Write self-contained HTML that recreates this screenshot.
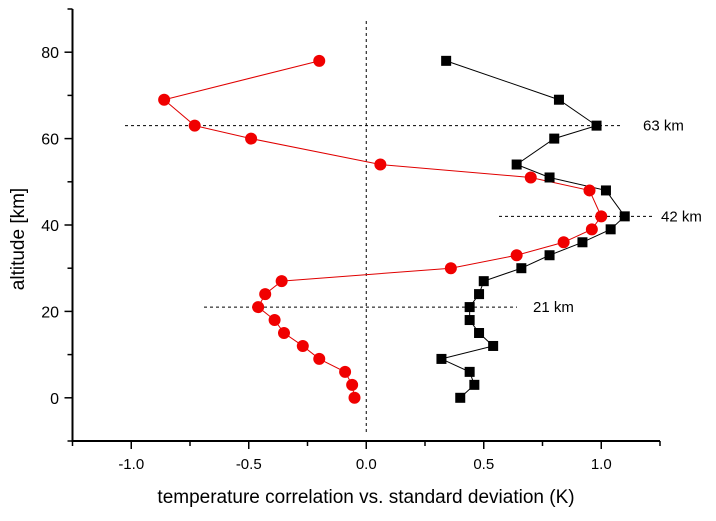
<!DOCTYPE html>
<html><head><meta charset="utf-8"><style>
html,body{margin:0;padding:0;background:#fff;}
svg text{font-family:"Liberation Sans",Arial,sans-serif;}
</style></head><body>
<svg id="chart" width="716" height="516" viewBox="0 0 716 516" xmlns="http://www.w3.org/2000/svg">
<g id="grid"></g>
</svg>
<script>
const altitudes = [78,69,63,60,54,51,48,42,39,36,33,30,27,24,21,18,15,12,9,6,3,0];
const correlation = [-0.20,-0.86,-0.73,-0.49,0.06,0.70,0.95,1.00,0.96,0.84,0.64,0.36,-0.36,-0.43,-0.46,-0.39,-0.35,-0.27,-0.20,-0.09,-0.06,-0.05];
const stdDev = [0.34,0.82,0.98,0.80,0.64,0.78,1.02,1.10,1.04,0.92,0.78,0.66,0.50,0.48,0.44,0.44,0.48,0.54,0.32,0.44,0.46,0.40];
const xTicks = [-1.0,-0.5,0.0,0.5,1.0];
const xTickLabels = ["-1.0","-0.5","0.0","0.5","1.0"];
const yTicks = [0,20,40,60,80];
const markerAltitudes = [63,42,21];
const markerLabels = ["63 km","42 km","21 km"];

const X0=72.5,X1=660,Y0=441,Y1=9, xmin=-1.25,xmax=1.25,ymin=-10,ymax=90;
const sx=v=>X0+(v-xmin)/(xmax-xmin)*(X1-X0);
const sy=v=>Y0-(v-ymin)/(ymax-ymin)*(Y0-Y1);
const NS="http://www.w3.org/2000/svg";
const svg=document.getElementById('chart');
function mk(t,a,p){const e=document.createElementNS(NS,t);for(const k in a)e.setAttribute(k,a[k]);(p||svg).appendChild(e);return e;}

// reference lines
const vl=mk('line',{x1:sx(0),x2:sx(0),y1:21,y2:432,stroke:'#000','stroke-width':1,'stroke-dasharray':'3,3'});


const hx=[[125,623,643],[499,652,661],[204,517,533]];
markerAltitudes.forEach((a,i)=>{
  const l=mk('line',{x1:hx[i][0],x2:hx[i][1],y1:sy(a),y2:sy(a),stroke:'#000','stroke-width':1,'stroke-dasharray':'3,3'});
  
  
  const t=mk('text',{x:hx[i][2],y:sy(a)+5,'font-size':15});
  t.textContent=markerLabels[i];
  
  
});

// axes
const ax=mk('path',{d:`M${X0},${Y1}V${Y0}H${X1}`,fill:'none',stroke:'#000','stroke-width':2});


for(let v=-1.25;v<=1.2501;v+=0.25){
  const major=Math.abs(v*2-Math.round(v*2))<1e-6;
  const tk=mk('line',{x1:sx(v),x2:sx(v),y1:Y0,y2:Y0+(major?8:5),stroke:'#000','stroke-width':1.5});
  
  
}
xTicks.forEach((v,i)=>{
  const t=mk('text',{x:sx(v),y:469,'font-size':15,'text-anchor':'middle'});
  t.textContent=xTickLabels[i];
  
  
});
for(let v=-10;v<=90;v+=10){
  const major=v%20===0;
  const tk=mk('line',{x1:X0,x2:X0-(major?8:5),y1:sy(v),y2:sy(v),stroke:'#000','stroke-width':1.5});
  
  
}
yTicks.forEach(v=>{
  const t=mk('text',{x:59,y:sy(v)+6,'font-size':16,'text-anchor':'end'});
  t.textContent=String(v);
  
  
});
const xt=mk('text',{x:366,y:503,'font-size':19,'text-anchor':'middle'});
xt.textContent='temperature correlation vs. standard deviation (K)';


const yt=mk('text',{x:0,y:0,'font-size':19,'text-anchor':'middle',transform:'translate(24,239) rotate(-90)'});
yt.textContent='altitude [km]';



// series
const pr=mk('polyline',{points:altitudes.map((a,i)=>sx(correlation[i])+','+sy(a)).join(' '),fill:'none',stroke:'#e00000','stroke-width':1});


const pb=mk('polyline',{points:altitudes.map((a,i)=>sx(stdDev[i])+','+sy(a)).join(' '),fill:'none',stroke:'#000','stroke-width':1});


altitudes.forEach((a,i)=>{
  const c=mk('circle',{cx:sx(correlation[i]),cy:sy(a),r:6,fill:'#f00000'});
  
  
  const s=mk('rect',{x:sx(stdDev[i])-5,y:sy(a)-5,width:10,height:10,fill:'#000'});
  
  
});
</script>
</body></html>
